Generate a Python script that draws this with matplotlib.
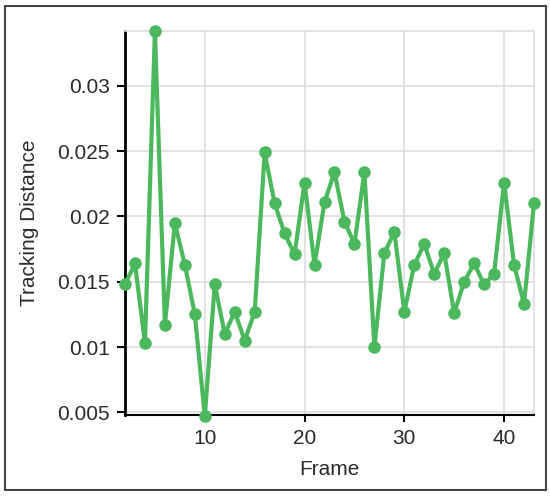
import matplotlib.pyplot as plt
from matplotlib.patches import Rectangle

# frame index and tracking distance
frames = list(range(2, 44))
distance = [0.0148, 0.0164, 0.0103, 0.0342, 0.0117, 0.0195, 0.0163, 0.0125, 0.0047, 0.0148,
            0.0110, 0.0127, 0.0105, 0.0127, 0.0249, 0.0210, 0.0187, 0.0171, 0.0226, 0.0163,
            0.0211, 0.0234, 0.0196, 0.0179, 0.0234, 0.0100, 0.0172, 0.0188, 0.0127, 0.0163,
            0.0179, 0.0156, 0.0172, 0.0126, 0.0150, 0.0164, 0.0148, 0.0156, 0.0226, 0.0163,
            0.0133, 0.0210]
xticks = [10, 20, 30, 40]
yticks = [0.005, 0.01, 0.015, 0.02, 0.025, 0.03]
ytick_labels = ['0.005', '0.01', '0.015', '0.02', '0.025', '0.03']

plt.rcParams['font.family'] = ['Liberation Sans', 'DejaVu Sans']

fig = plt.figure(figsize=(5.5, 4.96), dpi=100)
# outer frame around the whole chart
fig.patches.append(Rectangle((5 / 550, 6 / 496), 541 / 550, 484 / 496, transform=fig.transFigure,
                             fill=False, edgecolor='#444444', linewidth=1.5))

ax = fig.add_axes([125 / 550, 81 / 496, 409 / 550, 384 / 496])
ax.plot(frames, distance, color='#4cb85e', linewidth=3.0, marker='o', markersize=8,
        clip_on=False, zorder=3)

ax.set_xlim(2, 43)
ax.set_ylim(0.0048, 0.0342)
ax.set_xticks(xticks)
ax.set_yticks(yticks)
ax.set_yticklabels(ytick_labels)
ax.tick_params(axis='both', labelsize=15, colors='#2a2a2a', length=6, width=1.5, pad=5)
ax.tick_params(axis='y', color='black')
ax.tick_params(axis='x', color='black', length=5)

ax.grid(True, color='#dddddd', linewidth=1.2)
ax.set_axisbelow(True)
for side in ['top', 'right']:
    ax.spines[side].set_color('#dddddd')
    ax.spines[side].set_linewidth(1.2)
ax.spines['left'].set_color('black')
ax.spines['left'].set_linewidth(2)
ax.spines['left'].set_linestyle((0, (3, 1)))
ax.spines['bottom'].set_color('black')
ax.spines['bottom'].set_linewidth(1.5)

ax.set_xlabel('Frame', fontsize=15, color='#2a2a2a', labelpad=9)
ax.set_ylabel('Tracking Distance', fontsize=15, color='#2a2a2a', labelpad=13)

plt.savefig('out.png', dpi=100)
